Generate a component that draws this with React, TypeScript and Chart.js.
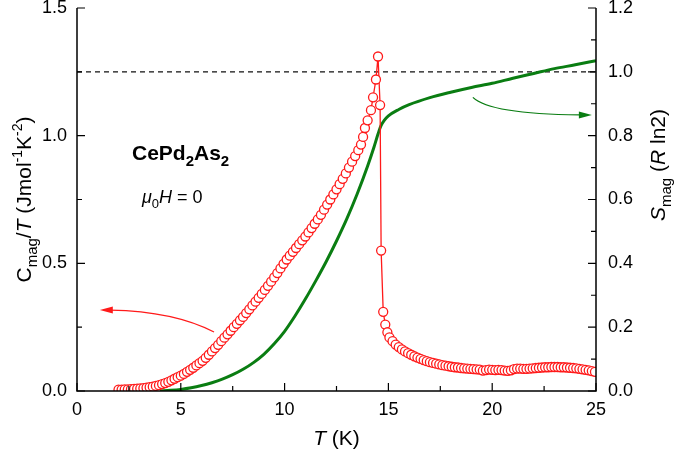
import React, { useEffect, useRef } from "react";
import { Chart, registerables } from "chart.js";

Chart.register(...registerables);

// ---- data ----
const redT = [
  2.0, 2.15, 2.3, 2.45, 2.6, 2.75, 2.9, 3.05, 3.2, 3.35, 3.5, 3.65, 3.8, 3.95, 4.1, 4.25, 4.4, 4.55, 4.7, 4.85,
  5.0, 5.15, 5.3, 5.45, 5.6, 5.75, 5.9, 6.05, 6.2, 6.35, 6.5, 6.65, 6.8, 6.95, 7.1, 7.25, 7.4, 7.55, 7.7, 7.85,
  8.0, 8.15, 8.3, 8.45, 8.6, 8.75, 8.9, 9.05, 9.2, 9.35, 9.5, 9.65, 9.8, 9.95, 10.1, 10.25, 10.4, 10.55, 10.7, 10.85,
  11.0, 11.15, 11.3, 11.45, 11.6, 11.75, 11.9, 12.05, 12.2, 12.35, 12.5, 12.65, 12.8, 12.95, 13.1, 13.25, 13.4, 13.55, 13.68,
  13.78, 13.87, 14.0, 14.16, 14.26, 14.4, 14.5, 14.6, 14.65, 14.75, 14.85, 14.95,
  15.05, 15.2, 15.35, 15.5, 15.65, 15.8, 15.95, 16.1, 16.25, 16.4, 16.55, 16.7, 16.85, 17.0, 17.15, 17.3, 17.45, 17.6, 17.75, 17.9,
  18.05, 18.2, 18.35, 18.5, 18.65, 18.8, 18.95, 19.1, 19.25, 19.4, 19.55, 19.7, 19.85, 20.0, 20.15, 20.3, 20.45, 20.6, 20.75, 20.9,
  21.05, 21.2, 21.35, 21.5, 21.65, 21.8, 21.95, 22.1, 22.25, 22.4, 22.55, 22.7, 22.85, 23.0, 23.15, 23.3, 23.45, 23.6, 23.75, 23.9,
  24.05, 24.2, 24.35, 24.5, 24.65, 24.8, 24.95,
];
const redC = [
  0.005, 0.005, 0.006, 0.006, 0.007, 0.008, 0.009, 0.01, 0.011, 0.013, 0.015, 0.017, 0.02, 0.023, 0.027, 0.031, 0.036, 0.042, 0.048, 0.054,
  0.06, 0.067, 0.075, 0.083, 0.091, 0.1, 0.109, 0.118, 0.13, 0.142, 0.155, 0.168, 0.181, 0.195, 0.209, 0.222, 0.236, 0.25, 0.263, 0.277,
  0.29, 0.305, 0.32, 0.335, 0.35, 0.365, 0.38, 0.396, 0.412, 0.428, 0.445, 0.462, 0.48, 0.498, 0.515, 0.53, 0.545, 0.56, 0.575, 0.59,
  0.605, 0.621, 0.638, 0.655, 0.672, 0.69, 0.71, 0.73, 0.75, 0.77, 0.79, 0.81, 0.831, 0.852, 0.875, 0.898, 0.92, 0.943, 0.965,
  0.995, 1.03, 1.06, 1.1, 1.15, 1.22, 1.31, 1.12, 0.55, 0.31, 0.26, 0.23,
  0.21, 0.195, 0.182, 0.172, 0.163, 0.155, 0.148, 0.142, 0.136, 0.131, 0.126, 0.121, 0.117, 0.113, 0.11, 0.107, 0.104, 0.101, 0.099, 0.097,
  0.095, 0.093, 0.092, 0.09, 0.089, 0.088, 0.087, 0.086, 0.085, 0.084, 0.08, 0.082, 0.084, 0.083, 0.082, 0.083, 0.082, 0.08, 0.079, 0.081,
  0.086, 0.088, 0.088, 0.087, 0.087, 0.088, 0.089, 0.09, 0.091, 0.092, 0.093, 0.093, 0.094, 0.094, 0.094, 0.093, 0.093, 0.092, 0.091, 0.09,
  0.089, 0.087, 0.085, 0.083, 0.081, 0.078, 0.075,
];
const greenT = [4.0, 4.5, 5.0, 5.5, 6.0, 6.5, 7.0, 7.5, 8.0, 8.5, 9.0, 9.5, 10.0, 10.5, 11.0, 11.5, 12.0, 12.5, 13.0, 13.5, 14.0, 14.3, 14.5, 14.65, 14.8, 15.0, 15.5, 16.0, 17.0, 18.0, 19.0, 20.0, 21.0, 22.0, 23.0, 24.0, 25.0];
const greenS = [0.0, 0.002, 0.005, 0.01, 0.017, 0.026, 0.037, 0.051, 0.068, 0.089, 0.115, 0.148, 0.187, 0.235, 0.288, 0.345, 0.405, 0.47, 0.54, 0.618, 0.705, 0.763, 0.805, 0.832, 0.848, 0.862, 0.882, 0.897, 0.919, 0.936, 0.951, 0.964, 0.98, 0.995, 1.01, 1.022, 1.035];
const refT = [0, 25];
const refC = [1.25, 1.25];

const xTicksMajor = [0, 5, 10, 15, 20, 25];
const xTicksMinor = [2.5, 7.5, 12.5, 17.5, 22.5];
const yTicksMajor = [0, 0.5, 1.0, 1.5];
const yTicksMinor = [0.25, 0.75, 1.25];
const y2TicksMajor = [0, 0.2, 0.4, 0.6, 0.8, 1.0, 1.2];
const y2TicksMinor = [0.1, 0.3, 0.5, 0.7, 0.9, 1.1];

// arrows: [T, value] start, control, end, tip
const redArrowT = [6.6, 4.7, 1.6, 1.1];
const redArrowC = [0.231, 0.312, 0.317, 0.317];
const greenArrowT = [19.07, 19.9, 24.2, 24.8];
const greenArrowS = [0.92, 0.868, 0.865, 0.865];

const FONT = "'Liberation Sans', Arial, Helvetica, sans-serif";
const RED = "#ff1a1a";
const GREEN = "#0a7d12";

type Seg = { t: string; size: number; style?: string; dy?: number };

function segWidth(ctx: CanvasRenderingContext2D, s: Seg) {
  ctx.font = `${s.style || ""} ${s.size}px ${FONT}`;
  return ctx.measureText(s.t).width;
}

function drawRich(ctx: CanvasRenderingContext2D, segs: Seg[], x: number, y: number, rot: number, align: "left" | "center") {
  ctx.save();
  ctx.translate(x, y);
  ctx.rotate(rot);
  const total = segs.reduce((a, s) => a + segWidth(ctx, s), 0);
  let cx = align === "center" ? -total / 2 : 0;
  ctx.textBaseline = "alphabetic";
  ctx.textAlign = "left";
  ctx.fillStyle = "#000";
  for (const s of segs) {
    ctx.font = `${s.style || ""} ${s.size}px ${FONT}`;
    ctx.fillText(s.t, cx, s.dy || 0);
    cx += ctx.measureText(s.t).width;
  }
  ctx.restore();
}

const decorPlugin = {
  id: "decor",
  afterDatasetsDraw(chart: any) {
    const ctx: CanvasRenderingContext2D = chart.ctx;
    const xs = chart.scales.x, ys = chart.scales.y, y2 = chart.scales.y2;
    const area = chart.chartArea;
    ctx.save();
    // frame: left, bottom, right
    ctx.strokeStyle = "#000";
    ctx.lineWidth = 1.5;
    ctx.beginPath();
    ctx.moveTo(area.left, area.top);
    ctx.lineTo(area.left, area.bottom);
    ctx.lineTo(area.right, area.bottom);
    ctx.lineTo(area.right, area.top);
    ctx.stroke();
    ctx.lineWidth = 1.2;
    ctx.beginPath();
    for (const v of xTicksMajor) { const p = xs.getPixelForValue(v); ctx.moveTo(p, area.bottom); ctx.lineTo(p, area.bottom - 8); }
    for (const v of xTicksMinor) { const p = xs.getPixelForValue(v); ctx.moveTo(p, area.bottom); ctx.lineTo(p, area.bottom - 5); }
    for (const v of yTicksMajor) { const p = ys.getPixelForValue(v); ctx.moveTo(area.left, p); ctx.lineTo(area.left + 8, p); }
    for (const v of yTicksMinor) { const p = ys.getPixelForValue(v); ctx.moveTo(area.left, p); ctx.lineTo(area.left + 5, p); }
    for (const v of y2TicksMajor) { const p = y2.getPixelForValue(v); ctx.moveTo(area.right, p); ctx.lineTo(area.right - 8, p); }
    for (const v of y2TicksMinor) { const p = y2.getPixelForValue(v); ctx.moveTo(area.right, p); ctx.lineTo(area.right - 5, p); }
    ctx.stroke();

    // arrows
    const arrow = (tx: number[], vy: number[], sc: any, color: string) => {
      const P = tx.map((t, i) => [xs.getPixelForValue(t), sc.getPixelForValue(vy[i])]);
      ctx.strokeStyle = color;
      ctx.fillStyle = color;
      ctx.lineWidth = 1.3;
      ctx.beginPath();
      ctx.moveTo(P[0][0], P[0][1]);
      ctx.quadraticCurveTo(P[1][0], P[1][1], P[2][0], P[2][1]);
      ctx.stroke();
      const dx = P[3][0] - P[2][0];
      const dir = Math.sign(dx);
      ctx.beginPath();
      ctx.moveTo(P[3][0], P[3][1]);
      ctx.lineTo(P[3][0] - dir * 13, P[3][1] - 3.5);
      ctx.lineTo(P[3][0] - dir * 13, P[3][1] + 3.5);
      ctx.closePath();
      ctx.fill();
    };
    arrow(redArrowT, redArrowC, ys, RED);
    arrow(greenArrowT, greenArrowS, y2, GREEN);

    // annotations
    drawRich(ctx, [
      { t: "CePd", size: 21, style: "bold" },
      { t: "2", size: 15, style: "bold", dy: 6 },
      { t: "As", size: 21, style: "bold" },
      { t: "2", size: 15, style: "bold", dy: 6 },
    ], 132, 160, 0, "left");
    drawRich(ctx, [
      { t: "\u03bc", size: 18, style: "italic" },
      { t: "0", size: 13, dy: 5 },
      { t: "H", size: 18, style: "italic" },
      { t: " = 0", size: 18 },
    ], 142, 203, 0, "left");

    // axis titles
    drawRich(ctx, [
      { t: "T", size: 21, style: "italic" },
      { t: " (K)", size: 21 },
    ], (area.left + area.right) / 2, 445, 0, "center");
    drawRich(ctx, [
      { t: "C", size: 21 },
      { t: "mag", size: 15, dy: 6 },
      { t: "/", size: 21 },
      { t: "T", size: 21, style: "italic" },
      { t: " (Jmol", size: 21 },
      { t: "-1", size: 14, dy: -9 },
      { t: "K", size: 21 },
      { t: "-2", size: 14, dy: -9 },
      { t: ")", size: 21 },
    ], 31, (area.top + area.bottom) / 2, -Math.PI / 2, "center");
    drawRich(ctx, [
      { t: "S", size: 21, style: "italic" },
      { t: "mag", size: 15, dy: 6 },
      { t: " (", size: 21 },
      { t: "R", size: 21, style: "italic" },
      { t: " ln2)", size: 21 },
    ], 665, 165, -Math.PI / 2, "center");
    ctx.restore();
  },
};

const noPad = (s: any) => {
  s.paddingTop = 0;
  s.paddingBottom = 0;
  s.paddingLeft = 0;
  s.paddingRight = 0;
};

export default function App() {
  const ref = useRef<HTMLCanvasElement>(null);
  useEffect(() => {
    document.body.style.margin = "0";
    const canvas = ref.current!;
    const tickFont = { family: FONT, size: 18 };
    const chart = new Chart(canvas, {
      type: "line",
      data: {
        datasets: [
          {
            label: "C/T",
            data: redT.map((t, i) => ({ x: t, y: redC[i] })),
            yAxisID: "y",
            borderColor: RED,
            borderWidth: 1.3,
            pointRadius: 4.5,
            pointBorderWidth: 1.3,
            pointBorderColor: RED,
            pointBackgroundColor: "#ffffff",
            tension: 0,
          },
          {
            label: "S",
            data: greenT.map((t, i) => ({ x: t, y: greenS[i] })),
            yAxisID: "y2",
            borderColor: GREEN,
            borderWidth: 3,
            pointRadius: 0,
            cubicInterpolationMode: "monotone",
          },
          {
            label: "ref",
            data: refT.map((t, i) => ({ x: t, y: refC[i] })),
            yAxisID: "y",
            borderColor: "#111",
            borderWidth: 1.2,
            borderDash: [5, 4],
            pointRadius: 0,
          },
        ],
      },
      options: {
        responsive: false,
        animation: false,
        events: [],
        layout: { padding: { top: 8, left: 0, right: 0, bottom: 0 } },
        plugins: { legend: { display: false }, tooltip: { enabled: false } },
        scales: {
          x: {
            type: "linear",
            min: 0,
            max: 25,
            ticks: { stepSize: 5, font: tickFont, color: "#000", padding: 8, maxRotation: 0 },
            grid: { display: false, drawTicks: false },
            border: { display: false },
            afterFit: (s: any) => { s.height = 60; noPad(s); },
          },
          y: {
            position: "left",
            min: 0,
            max: 1.5,
            ticks: { stepSize: 0.5, font: tickFont, color: "#000", padding: 10, callback: (v: any) => Number(v).toFixed(1) },
            grid: { display: false, drawTicks: false },
            border: { display: false },
            afterFit: (s: any) => { s.width = 77; noPad(s); },
          },
          y2: {
            position: "right",
            min: 0,
            max: 1.2,
            ticks: { stepSize: 0.2, font: tickFont, color: "#000", padding: 12, callback: (v: any) => Number(v).toFixed(1) },
            grid: { display: false, drawTicks: false },
            border: { display: false },
            afterFit: (s: any) => { s.width = 79; noPad(s); },
          },
        },
      },
      plugins: [decorPlugin],
    } as any);
    return () => chart.destroy();
  }, []);
  return (
    <div style={{ width: 675, height: 451, background: "#fff" }}>
      <canvas ref={ref} width={675} height={451} style={{ display: "block" }} />
    </div>
  );
}
